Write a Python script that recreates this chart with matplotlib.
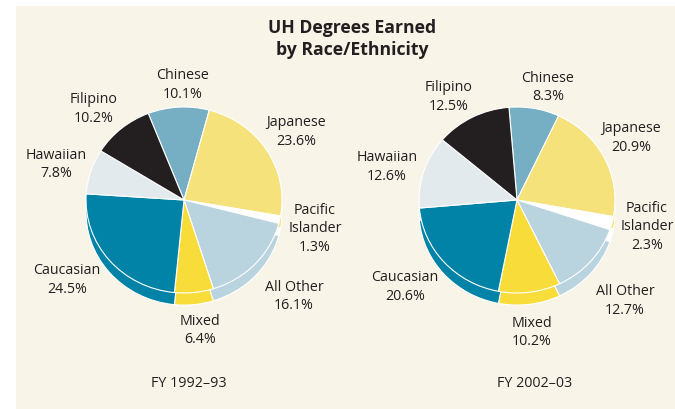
import matplotlib
matplotlib.use("Agg")
import matplotlib.pyplot as plt
from matplotlib.patches import Rectangle

# ---- data ----
categories = ["Chinese", "Japanese", "Pacific Islander", "All Other",
              "Mixed", "Caucasian", "Hawaiian", "Filipino"]
values_1993 = [10.1, 23.6, 1.3, 16.1, 6.4, 24.5, 7.8, 10.2]
values_2003 = [8.3, 20.9, 2.3, 12.7, 10.2, 20.6, 12.6, 12.5]
years = ["FY 1992\u201393", "FY 2002\u201303"]
title = "UH Degrees Earned\nby Race/Ethnicity"

# ---- styles ----
colors = ["#76aec4", "#f5e27a", "#ffffff", "#b9d3df",
          "#f8dc3a", "#0083a6", "#e3eaee", "#231f20"]
bg = "#f8f4e8"
txt = "#231f20"
W, H = 675, 410

plt.rcParams['font.family'] = ['Open Sans', 'DejaVu Sans']

fig = plt.figure(figsize=(W / 100, H / 100), dpi=100)
fig.patch.set_facecolor("white")
fig.patches.append(Rectangle((16 / W, 0), 1 - 16 / W, 1 - 7 / H,
                             transform=fig.transFigure, facecolor=bg,
                             edgecolor="none", zorder=-5))

# layout (pixels from top-left)
centers = [(184, 201), (517, 201)]
start_angles = [111.4, 94.7]
rx, ry = 98, 93
depth = 0.13

label_pos = [
    [(183, 85), (296, 132), (315, 229), (294, 296.5), (200, 330.5),
     (67, 280), (56, 164.5), (94, 109)],
    [(548, 87.5), (631, 138), (647, 227), (625, 301), (532, 332.5),
     (405, 287), (387, 167), (449, 97)],
]
year_pos = [(189, 384), (535, 384)]


def fx(px):
    return px / W


def fy(py):
    return 1 - py / H


for k, vals in enumerate([values_1993, values_2003]):
    cx, cy = centers[k]
    span = 1.5
    ax = fig.add_axes([fx(cx - span * rx), fy(cy + span * ry),
                       2 * span * rx / W, 2 * span * ry / H])
    ax.patch.set_alpha(0)
    # side (extrusion) of the pie
    ax.pie(vals, colors=colors, startangle=start_angles[k], counterclock=False,
           center=(0, -depth), radius=1,
           wedgeprops=dict(edgecolor="white", linewidth=0.8))
    # top face
    ax.pie(vals, colors=colors, startangle=start_angles[k], counterclock=False,
           center=(0, 0), radius=1,
           wedgeprops=dict(edgecolor="white", linewidth=0.8))
    ax.set_xlim(-span, span)
    ax.set_ylim(-span, span)
    ax.set_aspect("auto")
    ax.axis("off")

    for cat, v, (px, py) in zip(categories, vals, label_pos[k]):
        name = cat.replace(" ", "\n") if cat == "Pacific Islander" else cat
        fig.text(fx(px), fy(py), f"{name}\n{v}%", ha="center", va="center",
                 multialignment="center", fontsize=10.3, color=txt,
                 linespacing=1.28)
    fig.text(fx(year_pos[k][0]), fy(year_pos[k][1]), years[k], ha="center",
             va="center", fontsize=10.3, color=txt)

fig.text(fx(352), fy(39), title, ha="center", va="center", fontsize=12.7,
         fontweight="bold", color=txt, linespacing=1.25)

fig.savefig("out.png", dpi=100, facecolor=fig.get_facecolor())
